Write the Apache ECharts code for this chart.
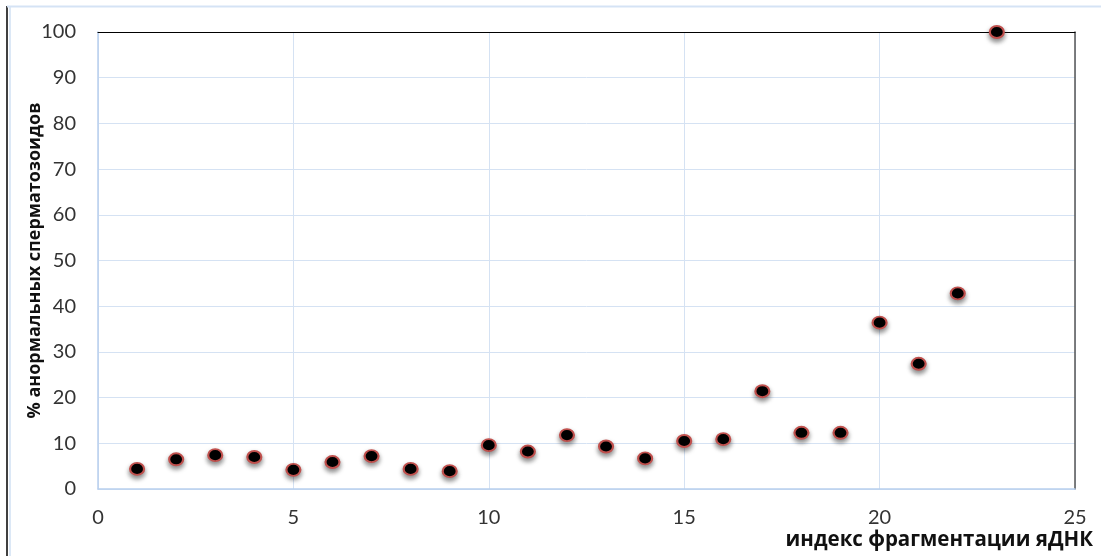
<!DOCTYPE html>
<html><head><meta charset="utf-8">
<script src="https://cdn.jsdelivr.net/npm/echarts@6/dist/echarts.min.js"></script>
<style>html,body{margin:0;padding:0;background:#fff}#c{width:1101px;height:556px}</style>
</head><body><div id="c"></div>
<script>
var xValues = [1,2,3,4,5,6,7,8,9,10,11,12,13,14,15,16,17,18,19,20,21,22,23];
var yValues = [4.4,6.5,7.4,7.0,4.2,5.9,7.2,4.4,3.9,9.6,8.2,11.8,9.3,6.7,10.5,10.9,21.4,12.3,12.3,36.4,27.4,42.8,100];
var xTitle = 'индекс фрагментации яДНК';
var yTitle = '% анормальных сперматозоидов';
var points = xValues.map(function(x,i){return [x, yValues[i]];});
var chart = echarts.init(document.getElementById('c'));
var lbl = {color:'#333', fontSize:20, fontFamily:'Lato'};
chart.setOption({
  animation:false,
  grid:{left:98,right:26,top:32,bottom:67},
  xAxis:[{
    type:'value',min:0,max:25,interval:5,
    axisLine:{lineStyle:{color:'#b8cfee',width:1.5}},
    axisTick:{show:false},
    splitLine:{lineStyle:{color:'#d5e2f3',width:1}},
    axisLabel:Object.assign({margin:19},lbl),
    name:xTitle,nameLocation:'end',nameGap:0,nameMoveOverlap:false,
    nameTextStyle:{fontSize:20.5,fontWeight:'bold',color:'#111',fontFamily:'Open Sans',align:'right',verticalAlign:'top',padding:[41,-18,0,0]}
  },{
    type:'value',min:0,max:25,position:'top',
    axisLine:{show:true,onZero:false,lineStyle:{color:'#000',width:1.2}},
    axisTick:{show:false},axisLabel:{show:false},splitLine:{show:false}
  }],
  yAxis:[{
    type:'value',min:0,max:100,interval:10,
    axisLine:{show:true,lineStyle:{color:'#b8cfee',width:1.5}},
    axisTick:{show:false},
    splitLine:{lineStyle:{color:'#d5e2f3',width:1}},
    axisLabel:Object.assign({margin:22},lbl),
    name:yTitle,nameLocation:'middle',nameGap:54,nameMoveOverlap:false,
    nameTextStyle:{fontSize:18,fontWeight:'bold',color:'#111',fontFamily:'Open Sans'}
  },{
    type:'value',min:0,max:100,position:'right',
    axisLine:{show:true,onZero:false,lineStyle:{color:'#555',width:1.5}},
    axisTick:{show:false},axisLabel:{show:false},splitLine:{show:false}
  }],
  graphic:[
    {type:'line',shape:{x1:7,y1:6,x2:7,y2:556},style:{stroke:'#000',lineWidth:1.5}},
    {type:'line',shape:{x1:10,y1:7,x2:10,y2:556},style:{stroke:'#dce8f6',lineWidth:2}},
    {type:'line',shape:{x1:7,y1:6.5,x2:1101,y2:6.5},style:{stroke:'#d5e3f5',lineWidth:2}}
  ],
  series:[{
    type:'scatter',data:points,symbol:'circle',symbolSize:[14,12],
    itemStyle:{color:'#000',borderColor:'#c0504d',borderWidth:2,opacity:1,
      shadowColor:'rgba(0,0,0,0.45)',shadowBlur:5,shadowOffsetY:3},
    z:5
  }]
});
</script></body></html>
